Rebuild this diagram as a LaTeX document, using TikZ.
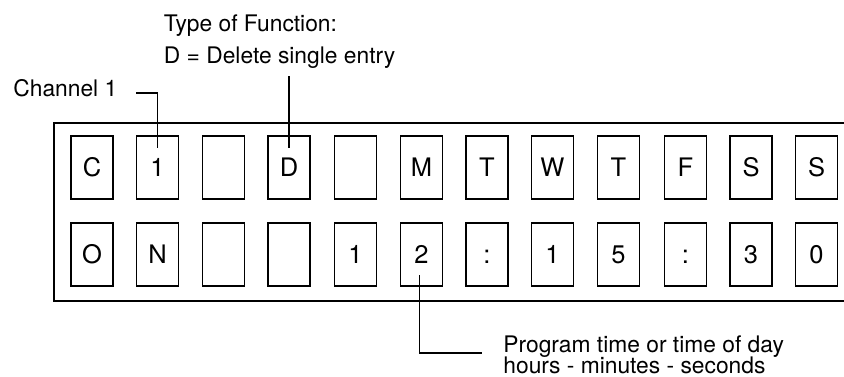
\documentclass[tikz,border=0pt]{standalone}
\usepackage{fontspec}
\setmainfont{TeX Gyre Heros}
\begin{document}
\begin{tikzpicture}[x=1pt,y=-1pt,
  line width=1.8pt,
  cell/.style={draw, line width=1.6pt, minimum width=42pt, minimum height=63pt,
    inner sep=0pt, text height=18pt, text depth=0pt,
    font=\fontsize{25.5}{30}\selectfont},
  lbl/.style={anchor=base west, inner sep=0pt, font=\fontsize{22.8}{27}\selectfont},
  leader/.style={line width=1.6pt}]
\useasboundingbox (0,0) rectangle (844,376);

% display frame, running off the right edge
\draw (846,123) -- (54,123) -- (54,301) -- (846,301);

% upper row of character cells
\foreach \x/\t/\n in {92/C/a1,157.5/1/a2,223.5//a3,289/D/a4,355.5//a5,421.5/M/a6,
                      487/T/a7,552.5/W/a8,618.5/T/a9,685.5/F/a10,751/S/a11,816.5/S/a12}
  \node[cell] (\n) at (\x,167.5) {\t};

% lower row of character cells
\foreach \x/\t/\n in {92/O/b1,157.5/N/b2,223.5//b3,289//b4,355.5/1/b5,421.5/2/b6,
                      487/:/b7,552.5/1/b8,618.5/5/b9,685.5/:/b10,751/3/b11,816.5/0/b12}
  \node[cell] (\n) at (\x,254.5) {\t};

% annotations
\node[lbl] (chan) at (12.5,96.5) {Channel 1};
\node[lbl] (func1) at (163,31) {Type of Function:};
\node[lbl] (func2) at (163,63) {D = Delete single entry};
\node[lbl] (prog1) at (502.5,352) {Program time or time of day};
\node[lbl] (prog2) at (502.5,373.5) {hours - minutes - seconds};

% leader lines (canvas y points up, so +yshift moves a point upwards)
\coordinate (chanend) at (136,92.7);
\coordinate (chantip) at ([yshift=20pt]a2.center);
\draw[leader] (chanend) -| (chantip);

\coordinate (functop) at (a4.center |- 0,76);
\coordinate (functip) at ([yshift=20pt]a4.center);
\draw[leader] (functop) -- (functip);

\coordinate (progtip) at ([yshift=-20.5pt,xshift=-2pt]b6.center);
\coordinate (progend) at (482,353);
\draw[leader] (progtip) |- (progend);
\end{tikzpicture}
\end{document}
